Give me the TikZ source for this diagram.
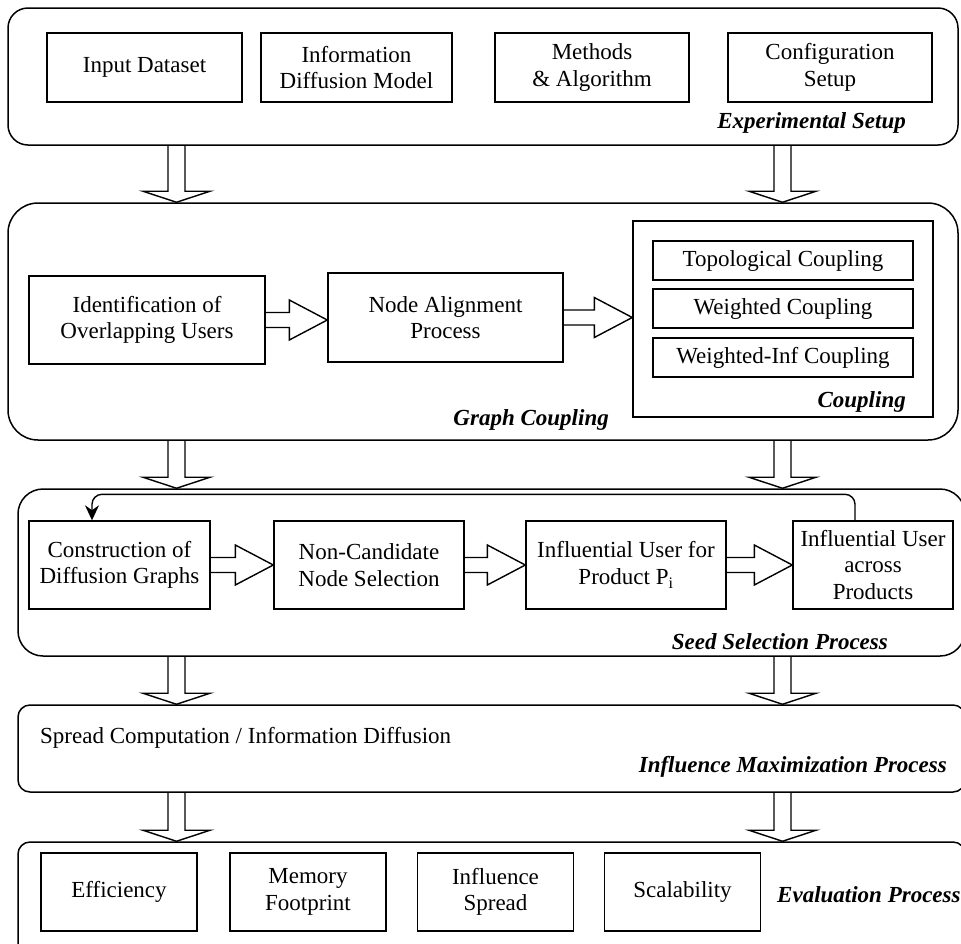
\documentclass[tikz,border=0pt]{standalone}
\usepackage{fontspec}
\setmainfont{Liberation Serif}
\usepackage{tikz}
\usetikzlibrary{arrows.meta, calc, positioning}

% hollow block arrows between stages
\newcommand{\fatdown}[3]{%
  \draw[fatarrow] let \p1=(#2.south -| #1,0), \p2=(#3.north -| #1,0) in
    (\x1-8.5pt,\y1) -- (\x1-8.5pt,\y2+11pt) -- (\x1-33.5pt,\y2+11pt) -- (\x1,\y2)
    -- (\x1+33.5pt,\y2+11pt) -- (\x1+8.5pt,\y2+11pt) -- (\x1+8.5pt,\y1);}
\newcommand{\fatright}[2]{%
  \draw[fatarrow] let \p1=(#1.east), \p2=(#2.west |- #1.east) in
    (\x1,\y1+7.5pt) -- (\x2-38pt,\y1+7.5pt) -- (\x2-38pt,\y1+20pt) -- (\x2,\y1)
    -- (\x2-38pt,\y1-20pt) -- (\x2-38pt,\y1-7.5pt) -- (\x1,\y1-7.5pt);}

\tikzset{
  stage/.style={draw, line width=1.5pt, rounded corners=#1},
  block/.style={draw, line width=1.4pt, align=center, inner sep=0pt},
  tag/.style={inner sep=0pt, font=\fontsize{23}{26.5}\selectfont\bfseries\itshape},
  fatarrow/.style={line width=1.4pt, line join=miter},
  feedback/.style={line width=1.4pt, rounded corners=10pt, -{Stealth[length=15pt, width=14pt]}}
}

\begin{document}
\begin{tikzpicture}[x=1pt, y=-1pt, font=\fontsize{23}{26.5}\selectfont]
    \useasboundingbox (0,0) rectangle (961,943);

    % Stage containers
    \node[stage=20pt, minimum width=950, minimum height=137] (setup) at (483,76.5) {};
    \node[stage=30pt, minimum width=950, minimum height=237] (graphcpl) at (483,321.5) {};
    \node[stage=25pt, minimum width=947, minimum height=167] (seedsel) at (491.5,572.5) {};
    \node[stage=12pt, minimum width=947, minimum height=87] (spread) at (491.5,748.5) {};
    \node[stage=12pt, minimum width=947, minimum height=118] (evalproc) at (491.5,901) {};

    % Experimental setup
    \node[block, minimum width=195, minimum height=69] (dataset) at (144.5,67.5) {Input Dataset};
    \node[block, minimum width=191, minimum height=69] (diffmodel) at (356.5,67.5) {Information\\Diffusion Model};
    \node[block, minimum width=194, minimum height=69] (methods) at (592,67.5) {Methods\\\& Algorithm};
    \node[block, minimum width=204, minimum height=69] (config) at (830,67.5) {Configuration\\Setup};
    \node[tag, anchor=east] at (906,123) {Experimental Setup};

    % Graph coupling
    \node[block, minimum width=236, minimum height=88] (overlap) at (147,320) {Identification of\\Overlapping Users};
    \node[block, minimum width=235, minimum height=89] (align) at (445.5,317.5) {Node Alignment\\Process};
    \node[block, minimum width=300, minimum height=196] (coupling) at (783,319) {};
    \node[block, minimum width=260, minimum height=39] (topo) at (783,260.5) {Topological Coupling};
    \node[block, minimum width=260, minimum height=39] (weighted) at (783,308.5) {Weighted Coupling};
    \node[block, minimum width=260, minimum height=39] (weightinf) at (783,357.5) {Weighted-Inf Coupling};
    \node[tag, anchor=east] at (906,402) {Coupling};
    \node[tag, anchor=east] at (609,420) {Graph Coupling};
    \fatright{overlap}{align}
    \fatright{align}{coupling}

    % Seed selection
    \node[block, minimum width=181, minimum height=88] (construct) at (119.5,565) {Construction of\\Diffusion Graphs};
    \node[block, minimum width=190, minimum height=88] (noncand) at (369,565) {Non-Candidate\\Node Selection};
    \node[block, minimum width=200, minimum height=88] (product) at (626,565) {Influential User for\\Product P\textsubscript{i}};
    \node[block, minimum width=160, minimum height=88] (across) at (873,565) {Influential User\\across\\Products};
    \node[tag, anchor=east] at (888,642) {Seed Selection Process};
    \fatright{construct}{noncand}
    \fatright{noncand}{product}
    \fatright{product}{across}
    \draw[feedback] ([xshift=-18pt]across.north) -- ++(0,-26) -| ([xshift=-27.5pt]construct.north);

    % Influence maximization
    \node[inner sep=0pt, anchor=west] (spreadtxt) at (40,738) {Spread Computation / Information Diffusion};
    \node[tag, anchor=east] at (947,767) {Influence Maximization Process};

    % Evaluation
    \node[block, minimum width=156, minimum height=78] (efficiency) at (119,892) {Efficiency};
    \node[block, minimum width=156, minimum height=78] (memory) at (308,892) {Memory\\Footprint};
    \node[block, minimum width=156, minimum height=78] (inflspread) at (495.5,892) {Influence\\Spread};
    \node[block, minimum width=156, minimum height=78] (scalab) at (682.5,892) {Scalability};
    \node[tag, anchor=west] at (777,895) {Evaluation Process};

    % Arrows between stages
    \foreach \a/\b in {setup/graphcpl, graphcpl/seedsel, seedsel/spread, spread/evalproc}
        \foreach \c in {176.5,782.5} \fatdown{\c}{\a}{\b};
\end{tikzpicture}
\end{document}
